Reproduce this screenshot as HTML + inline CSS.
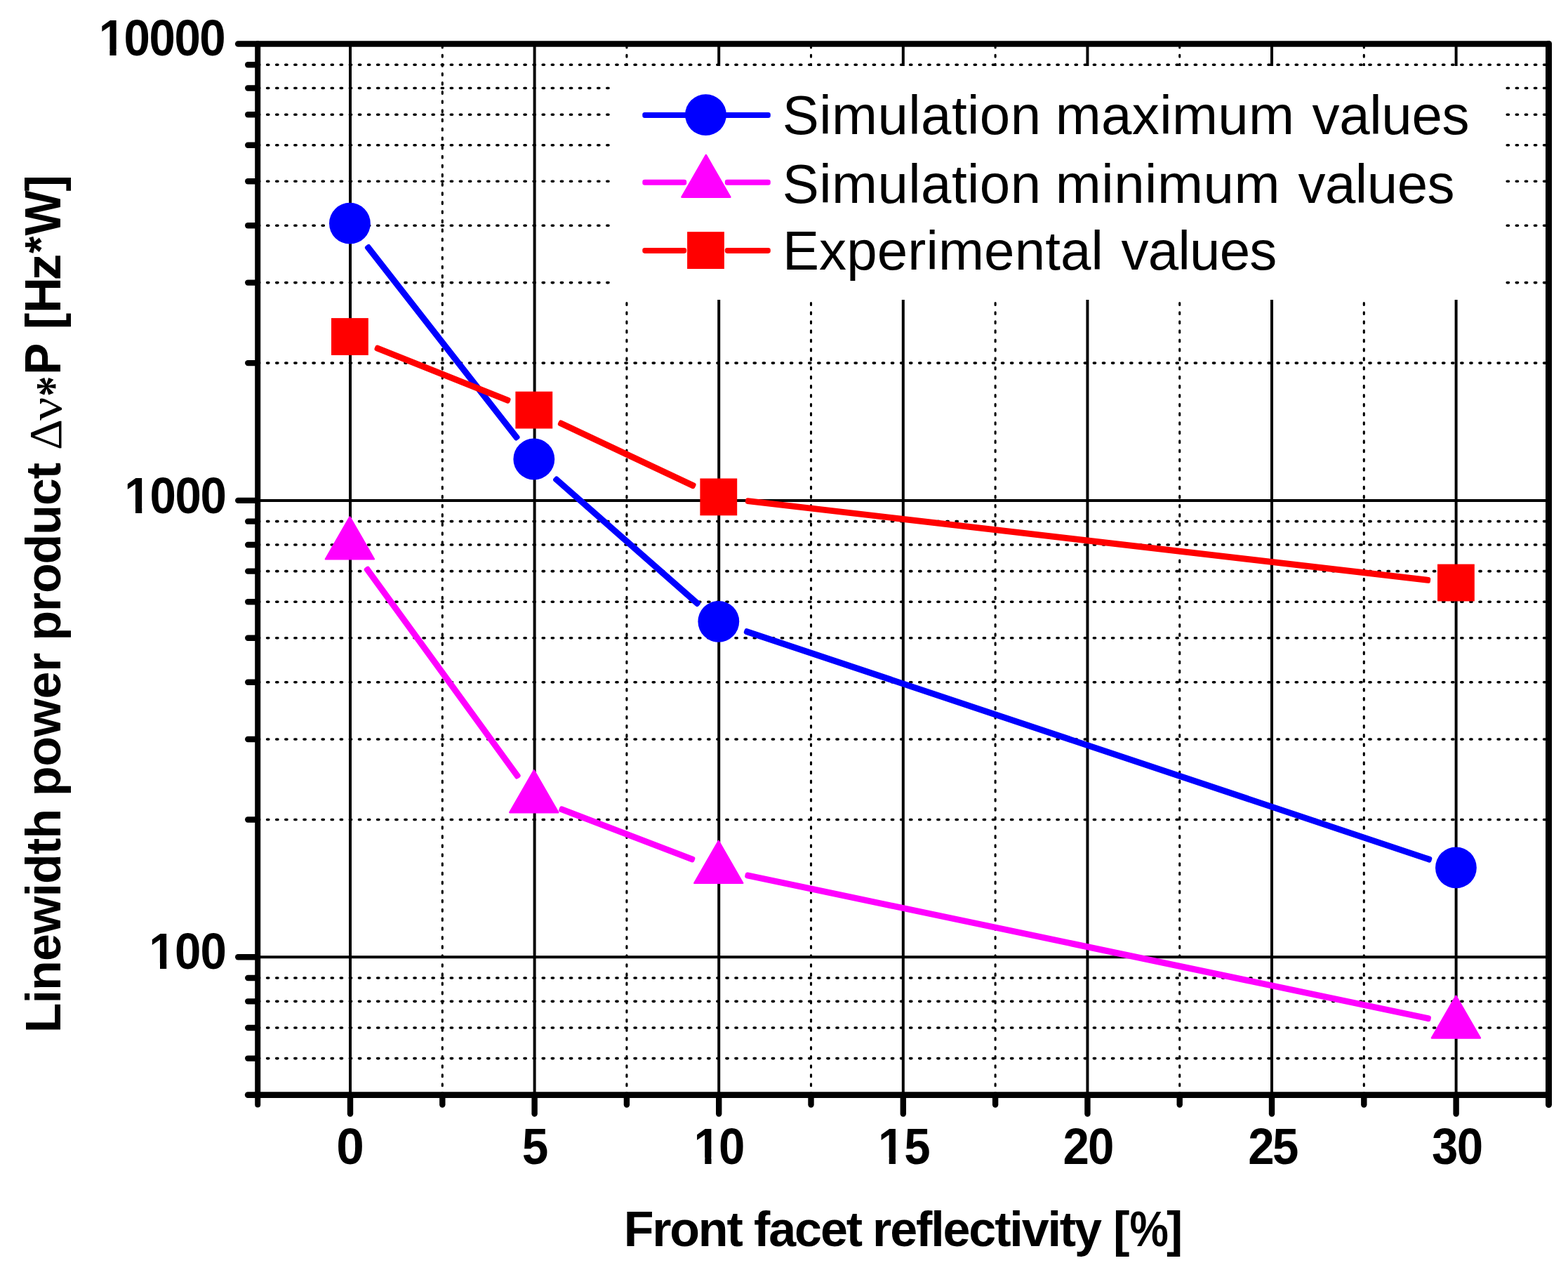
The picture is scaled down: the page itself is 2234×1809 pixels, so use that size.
<!DOCTYPE html>
<html lang="en">
<head>
<meta charset="utf-8">
<title>Linewidth power product vs. front facet reflectivity</title>
<style>
html,body{margin:0;padding:0;background:#fff;}
body{width:2234px;height:1809px;overflow:hidden;}
svg{display:block;}
text{font-family:"Liberation Sans",sans-serif;fill:#000;white-space:pre;}
.b{font-weight:bold;}
.sym{font-family:"Liberation Serif",serif;font-weight:normal;}
.symb{font-family:"Liberation Serif",serif;font-weight:bold;}
</style>
</head>
<body>
<svg width="2234" height="1809" viewBox="0 0 2234 1809" role="img" aria-label="Linewidth power product versus front facet reflectivity">
<rect x="0" y="0" width="2234" height="1809" fill="#fff"/>
<g stroke="#000" fill="none">
<line x1="380.60" y1="1507.59" x2="2204.50" y2="1507.59" stroke-width="3.6" stroke-dasharray="2.2 10.886" stroke-linecap="round"/>
<line x1="380.60" y1="1464.05" x2="2204.50" y2="1464.05" stroke-width="3.6" stroke-dasharray="2.2 10.886" stroke-linecap="round"/>
<line x1="380.60" y1="1426.33" x2="2204.50" y2="1426.33" stroke-width="3.6" stroke-dasharray="2.2 10.886" stroke-linecap="round"/>
<line x1="380.60" y1="1393.06" x2="2204.50" y2="1393.06" stroke-width="3.6" stroke-dasharray="2.2 10.886" stroke-linecap="round"/>
<line x1="380.60" y1="1167.51" x2="2204.50" y2="1167.51" stroke-width="3.6" stroke-dasharray="2.2 10.886" stroke-linecap="round"/>
<line x1="380.60" y1="1052.98" x2="2204.50" y2="1052.98" stroke-width="3.6" stroke-dasharray="2.2 10.886" stroke-linecap="round"/>
<line x1="380.60" y1="971.72" x2="2204.50" y2="971.72" stroke-width="3.6" stroke-dasharray="2.2 10.886" stroke-linecap="round"/>
<line x1="380.60" y1="908.69" x2="2204.50" y2="908.69" stroke-width="3.6" stroke-dasharray="2.2 10.886" stroke-linecap="round"/>
<line x1="380.60" y1="857.19" x2="2204.50" y2="857.19" stroke-width="3.6" stroke-dasharray="2.2 10.886" stroke-linecap="round"/>
<line x1="380.60" y1="813.65" x2="2204.50" y2="813.65" stroke-width="3.6" stroke-dasharray="2.2 10.886" stroke-linecap="round"/>
<line x1="380.60" y1="775.93" x2="2204.50" y2="775.93" stroke-width="3.6" stroke-dasharray="2.2 10.886" stroke-linecap="round"/>
<line x1="380.60" y1="742.66" x2="2204.50" y2="742.66" stroke-width="3.6" stroke-dasharray="2.2 10.886" stroke-linecap="round"/>
<line x1="380.60" y1="517.11" x2="2204.50" y2="517.11" stroke-width="3.6" stroke-dasharray="2.2 10.886" stroke-linecap="round"/>
<line x1="380.60" y1="402.58" x2="2204.50" y2="402.58" stroke-width="3.6" stroke-dasharray="2.2 10.886" stroke-linecap="round"/>
<line x1="380.60" y1="321.32" x2="2204.50" y2="321.32" stroke-width="3.6" stroke-dasharray="2.2 10.886" stroke-linecap="round"/>
<line x1="380.60" y1="258.29" x2="2204.50" y2="258.29" stroke-width="3.6" stroke-dasharray="2.2 10.886" stroke-linecap="round"/>
<line x1="380.60" y1="206.79" x2="2204.50" y2="206.79" stroke-width="3.6" stroke-dasharray="2.2 10.886" stroke-linecap="round"/>
<line x1="380.60" y1="163.25" x2="2204.50" y2="163.25" stroke-width="3.6" stroke-dasharray="2.2 10.886" stroke-linecap="round"/>
<line x1="380.60" y1="125.53" x2="2204.50" y2="125.53" stroke-width="3.6" stroke-dasharray="2.2 10.886" stroke-linecap="round"/>
<line x1="380.60" y1="92.26" x2="2204.50" y2="92.26" stroke-width="3.6" stroke-dasharray="2.2 10.886" stroke-linecap="round"/>
<line x1="630.30" y1="65.20" x2="630.30" y2="1557.60" stroke-width="3.1" stroke-dasharray="2.8 10.286" stroke-linecap="round"/>
<line x1="892.90" y1="65.20" x2="892.90" y2="1557.60" stroke-width="3.1" stroke-dasharray="2.8 10.286" stroke-linecap="round"/>
<line x1="1155.50" y1="65.20" x2="1155.50" y2="1557.60" stroke-width="3.1" stroke-dasharray="2.8 10.286" stroke-linecap="round"/>
<line x1="1418.10" y1="65.20" x2="1418.10" y2="1557.60" stroke-width="3.1" stroke-dasharray="2.8 10.286" stroke-linecap="round"/>
<line x1="1680.70" y1="65.20" x2="1680.70" y2="1557.60" stroke-width="3.1" stroke-dasharray="2.8 10.286" stroke-linecap="round"/>
<line x1="1943.30" y1="65.20" x2="1943.30" y2="1557.60" stroke-width="3.1" stroke-dasharray="2.8 10.286" stroke-linecap="round"/>
<line x1="499.00" y1="62.50" x2="499.00" y2="1559.60" stroke-width="4.0"/>
<line x1="761.60" y1="62.50" x2="761.60" y2="1559.60" stroke-width="4.0"/>
<line x1="1024.20" y1="62.50" x2="1024.20" y2="1559.60" stroke-width="4.0"/>
<line x1="1286.80" y1="62.50" x2="1286.80" y2="1559.60" stroke-width="4.0"/>
<line x1="1549.40" y1="62.50" x2="1549.40" y2="1559.60" stroke-width="4.0"/>
<line x1="1812.00" y1="62.50" x2="1812.00" y2="1559.60" stroke-width="4.0"/>
<line x1="2074.60" y1="62.50" x2="2074.60" y2="1559.60" stroke-width="4.0"/>
<line x1="367.20" y1="712.90" x2="2206.50" y2="712.90" stroke-width="4.0"/>
<line x1="367.20" y1="1363.30" x2="2206.50" y2="1363.30" stroke-width="4.0"/>
</g>
<rect x="872.0" y="94.0" width="1269.0" height="333.0" fill="#fff"/>
<g stroke="#000" fill="none" stroke-linecap="round" stroke-linejoin="round">
<line x1="367.20" y1="62.50" x2="367.20" y2="1559.60" stroke-width="8.0"/>
<line x1="2206.50" y1="62.50" x2="2206.50" y2="1559.60" stroke-width="9.0"/>
<line x1="367.20" y1="62.50" x2="2206.50" y2="62.50" stroke-width="8.6"/>
<line x1="367.20" y1="1559.60" x2="2206.50" y2="1559.60" stroke-width="8.8"/>
<line x1="367.20" y1="62.50" x2="339.20" y2="62.50" stroke-width="8.6"/>
<line x1="367.20" y1="712.90" x2="339.20" y2="712.90" stroke-width="8.4"/>
<line x1="367.20" y1="1363.30" x2="339.20" y2="1363.30" stroke-width="8.4"/>
<line x1="367.20" y1="1507.59" x2="353.20" y2="1507.59" stroke-width="8.4"/>
<line x1="367.20" y1="1464.05" x2="353.20" y2="1464.05" stroke-width="8.4"/>
<line x1="367.20" y1="1426.33" x2="353.20" y2="1426.33" stroke-width="8.4"/>
<line x1="367.20" y1="1393.06" x2="353.20" y2="1393.06" stroke-width="8.4"/>
<line x1="367.20" y1="1167.51" x2="353.20" y2="1167.51" stroke-width="8.4"/>
<line x1="367.20" y1="1052.98" x2="353.20" y2="1052.98" stroke-width="8.4"/>
<line x1="367.20" y1="971.72" x2="353.20" y2="971.72" stroke-width="8.4"/>
<line x1="367.20" y1="908.69" x2="353.20" y2="908.69" stroke-width="8.4"/>
<line x1="367.20" y1="857.19" x2="353.20" y2="857.19" stroke-width="8.4"/>
<line x1="367.20" y1="813.65" x2="353.20" y2="813.65" stroke-width="8.4"/>
<line x1="367.20" y1="775.93" x2="353.20" y2="775.93" stroke-width="8.4"/>
<line x1="367.20" y1="742.66" x2="353.20" y2="742.66" stroke-width="8.4"/>
<line x1="367.20" y1="517.11" x2="353.20" y2="517.11" stroke-width="8.4"/>
<line x1="367.20" y1="402.58" x2="353.20" y2="402.58" stroke-width="8.4"/>
<line x1="367.20" y1="321.32" x2="353.20" y2="321.32" stroke-width="8.4"/>
<line x1="367.20" y1="258.29" x2="353.20" y2="258.29" stroke-width="8.4"/>
<line x1="367.20" y1="206.79" x2="353.20" y2="206.79" stroke-width="8.4"/>
<line x1="367.20" y1="163.25" x2="353.20" y2="163.25" stroke-width="8.4"/>
<line x1="367.20" y1="125.53" x2="353.20" y2="125.53" stroke-width="8.4"/>
<line x1="367.20" y1="92.26" x2="353.20" y2="92.26" stroke-width="8.4"/>
<line x1="367.20" y1="1559.60" x2="353.20" y2="1559.60" stroke-width="8.8"/>
<line x1="499.00" y1="1559.60" x2="499.00" y2="1586.60" stroke-width="8.4"/>
<line x1="761.60" y1="1559.60" x2="761.60" y2="1586.60" stroke-width="8.4"/>
<line x1="1024.20" y1="1559.60" x2="1024.20" y2="1586.60" stroke-width="8.4"/>
<line x1="1286.80" y1="1559.60" x2="1286.80" y2="1586.60" stroke-width="8.4"/>
<line x1="1549.40" y1="1559.60" x2="1549.40" y2="1586.60" stroke-width="8.4"/>
<line x1="1812.00" y1="1559.60" x2="1812.00" y2="1586.60" stroke-width="8.4"/>
<line x1="2074.60" y1="1559.60" x2="2074.60" y2="1586.60" stroke-width="8.4"/>
<line x1="367.20" y1="1559.60" x2="367.20" y2="1573.60" stroke-width="8.0"/>
<line x1="630.30" y1="1559.60" x2="630.30" y2="1573.60" stroke-width="8.4"/>
<line x1="892.90" y1="1559.60" x2="892.90" y2="1573.60" stroke-width="8.4"/>
<line x1="1155.50" y1="1559.60" x2="1155.50" y2="1573.60" stroke-width="8.4"/>
<line x1="1418.10" y1="1559.60" x2="1418.10" y2="1573.60" stroke-width="8.4"/>
<line x1="1680.70" y1="1559.60" x2="1680.70" y2="1573.60" stroke-width="8.4"/>
<line x1="1943.30" y1="1559.60" x2="1943.30" y2="1573.60" stroke-width="8.4"/>
<line x1="2206.50" y1="1559.60" x2="2206.50" y2="1573.60" stroke-width="9.0"/>
</g>
<rect x="-4.45" y="-4.45" width="351.06" height="8.90" rx="3.2" fill="#0000ff" transform="translate(524.88 352.98) rotate(51.995)"/>
<rect x="-4.45" y="-4.45" width="275.14" height="8.90" rx="3.2" fill="#0000ff" transform="translate(793.09 683.30) rotate(41.331)"/>
<rect x="-4.45" y="-4.45" width="1032.46" height="8.90" rx="3.2" fill="#0000ff" transform="translate(1064.59 899.81) rotate(18.455)"/>
<circle cx="498.40" cy="318.20" r="29.4" fill="#0000ff"/>
<circle cx="760.80" cy="654.00" r="29.4" fill="#0000ff"/>
<circle cx="1023.80" cy="885.30" r="29.4" fill="#0000ff"/>
<circle cx="2074.40" cy="1235.90" r="29.4" fill="#0000ff"/>
<rect x="-4.45" y="-4.45" width="371.11" height="8.90" rx="3.2" fill="#ff00ff" transform="translate(523.69 811.58) rotate(53.980)"/>
<rect x="-4.45" y="-4.45" width="206.48" height="8.90" rx="3.2" fill="#ff00ff" transform="translate(800.96 1153.06) rotate(20.932)"/>
<rect x="-4.45" y="-4.45" width="998.43" height="8.90" rx="3.2" fill="#ff00ff" transform="translate(1065.88 1247.14) rotate(11.864)"/>
<path d="M464.00 796.30 L532.80 796.30 L498.40 736.60 Z" fill="#ff00ff" stroke="#ff00ff" stroke-width="2.6" stroke-linejoin="round"/>
<path d="M726.40 1157.20 L795.20 1157.20 L760.80 1097.50 Z" fill="#ff00ff" stroke="#ff00ff" stroke-width="2.6" stroke-linejoin="round"/>
<path d="M989.40 1257.80 L1058.20 1257.80 L1023.80 1198.10 Z" fill="#ff00ff" stroke="#ff00ff" stroke-width="2.6" stroke-linejoin="round"/>
<path d="M2040.00 1478.50 L2108.80 1478.50 L2074.40 1418.80 Z" fill="#ff00ff" stroke="#ff00ff" stroke-width="2.6" stroke-linejoin="round"/>
<rect x="-4.45" y="-4.45" width="207.38" height="8.90" rx="3.2" fill="#ff0000" transform="translate(538.34 496.32) rotate(21.734)"/>
<rect x="-4.45" y="-4.45" width="215.58" height="8.90" rx="3.2" fill="#ff0000" transform="translate(799.71 603.31) rotate(25.207)"/>
<rect x="-4.45" y="-4.45" width="982.57" height="8.90" rx="3.2" fill="#ff0000" transform="translate(1066.51 713.76) rotate(6.629)"/>
<rect x="472.00" y="453.10" width="52.8" height="52.8" fill="#ff0000"/>
<rect x="734.40" y="557.70" width="52.8" height="52.8" fill="#ff0000"/>
<rect x="997.40" y="681.50" width="52.8" height="52.8" fill="#ff0000"/>
<rect x="2048.00" y="803.60" width="52.8" height="52.8" fill="#ff0000"/>
<rect x="-4.00" y="-4.00" width="182.50" height="8.00" rx="3.3" fill="#0000ff" transform="translate(919.30 164.00)"/>
<circle cx="1005.50" cy="163.60" r="29.4" fill="#0000ff"/>
<rect x="-4.00" y="-4.00" width="62.90" height="8.00" rx="3.3" fill="#ff00ff" transform="translate(919.30 259.80)"/>
<rect x="-4.00" y="-4.00" width="65.00" height="8.00" rx="3.3" fill="#ff00ff" transform="translate(1036.80 259.80)"/>
<path d="M971.50 280.70 L1040.30 280.70 L1005.90 221.00 Z" fill="#ff00ff" stroke="#ff00ff" stroke-width="2.6" stroke-linejoin="round"/>
<rect x="-4.00" y="-4.00" width="62.90" height="8.00" rx="3.3" fill="#ff0000" transform="translate(919.30 356.90)"/>
<rect x="-4.00" y="-4.00" width="65.00" height="8.00" rx="3.3" fill="#ff0000" transform="translate(1036.80 356.90)"/>
<rect x="979.10" y="330.20" width="52.8" height="52.8" fill="#ff0000"/>
<defs><clipPath id="one"><path clip-rule="evenodd" d="M-20 -80H400V30H-20Z M2.41 -8.34H16.34V3H2.41Z M25.94 -8.34H38.48V3H25.94Z"/></clipPath></defs>
<g>
<text class="b" clip-path="url(#one)" font-size="70" letter-spacing="-1.517" transform="translate(140.71 79.2) scale(0.96 1.04)">10000</text>
<text class="b" clip-path="url(#one)" font-size="70" letter-spacing="-1.349" transform="translate(177.31 730.7) scale(0.96 1.04)">1000</text>
<text class="b" clip-path="url(#one)" font-size="70" letter-spacing="-0.753" transform="translate(212.31 1380.2) scale(0.96 1.04)">100</text>
<text class="b" font-size="70" transform="translate(479.25 1657.5) scale(1.0152 1.04)">0</text>
<text class="b" font-size="70" transform="translate(743.77 1657.5) scale(0.9657 1.04)">5</text>
<text class="b" clip-path="url(#one)" font-size="70" letter-spacing="-1.986" transform="translate(988.61 1657.5) scale(0.96 1.04)">10</text>
<text class="b" clip-path="url(#one)" font-size="70" letter-spacing="-0.069" transform="translate(1251.01 1657.5) scale(0.96 1.04)">15</text>
<text class="b" font-size="70" letter-spacing="-1.854" transform="translate(1514.38 1657.5) scale(0.96 1.04)">20</text>
<text class="b" font-size="70" letter-spacing="-2.542" transform="translate(1778.18 1657.5) scale(0.96 1.04)">25</text>
<text class="b" font-size="70" letter-spacing="-1.646" transform="translate(2040.08 1657.5) scale(0.96 1.04)">30</text>
</g>
<text class="b" font-size="70"><tspan x="888.7" y="1775" letter-spacing="-2.2">Front </tspan><tspan x="1073.9" y="1775" letter-spacing="-2.05">facet </tspan><tspan x="1243" y="1775" letter-spacing="-2.109">reflectivity </tspan><tspan x="1585.98" y="1775" textLength="23.442" lengthAdjust="spacingAndGlyphs">[</tspan><tspan x="1609.62" y="1775" textLength="55.381" lengthAdjust="spacingAndGlyphs">%</tspan><tspan x="1662.01" y="1775" textLength="23.183" lengthAdjust="spacingAndGlyphs">]</tspan></text>
<text class="b" font-size="70" transform="translate(85.8 0) rotate(-90)"><tspan x="-1471.3" y="0" letter-spacing="-0.9">Linewidth </tspan><tspan x="-1134.2" y="0" letter-spacing="-0.425">power </tspan><tspan x="-912.8" y="0" letter-spacing="-1.117">product </tspan><tspan class="sym" font-size="66.15" x="-641" y="1.2" textLength="43.927" lengthAdjust="spacingAndGlyphs">Δ</tspan><tspan class="sym" font-size="66.21" x="-599.1" y="1" textLength="33.359" lengthAdjust="spacingAndGlyphs">ν</tspan><tspan class="symb" font-size="69.43" x="-564.94" y="13.3" textLength="29.451" lengthAdjust="spacingAndGlyphs">*</tspan><tspan font-size="72.1" x="-533.77" y="0" textLength="62.427" lengthAdjust="spacingAndGlyphs">P </tspan><tspan x="-469.24" y="0" textLength="23.572" lengthAdjust="spacingAndGlyphs">[</tspan><tspan font-size="72.1" x="-445.9" y="0" textLength="51.086" lengthAdjust="spacingAndGlyphs">H</tspan><tspan x="-399.46" y="0" textLength="38.017" lengthAdjust="spacingAndGlyphs">z</tspan><tspan font-size="62.19" x="-361.1" y="-6.8" textLength="24.405" lengthAdjust="spacingAndGlyphs">*</tspan><tspan font-size="72.1" x="-335.6" y="0" textLength="64.144" lengthAdjust="spacingAndGlyphs">W</tspan><tspan x="-272.51" y="0" textLength="23.572" lengthAdjust="spacingAndGlyphs">]</tspan></text>
<text font-size="78"><tspan x="1114.8" y="191.4" letter-spacing="0.456">Simulation </tspan><tspan x="1503.7" y="191.4" letter-spacing="0.383">maximum </tspan><tspan x="1869.5" y="191.4" letter-spacing="-0.3">values</tspan></text>
<text font-size="78"><tspan x="1114.8" y="288.6" letter-spacing="0.456">Simulation </tspan><tspan x="1503.7" y="288.6" letter-spacing="0.567">minimum </tspan><tspan x="1849.4" y="288.6" letter-spacing="-0.46">values</tspan></text>
<text font-size="78"><tspan x="1114.9" y="384.1" letter-spacing="0.164">Experimental </tspan><tspan x="1597.5" y="384.1" letter-spacing="-0.74">values</tspan></text>
</svg>
</body>
</html>
